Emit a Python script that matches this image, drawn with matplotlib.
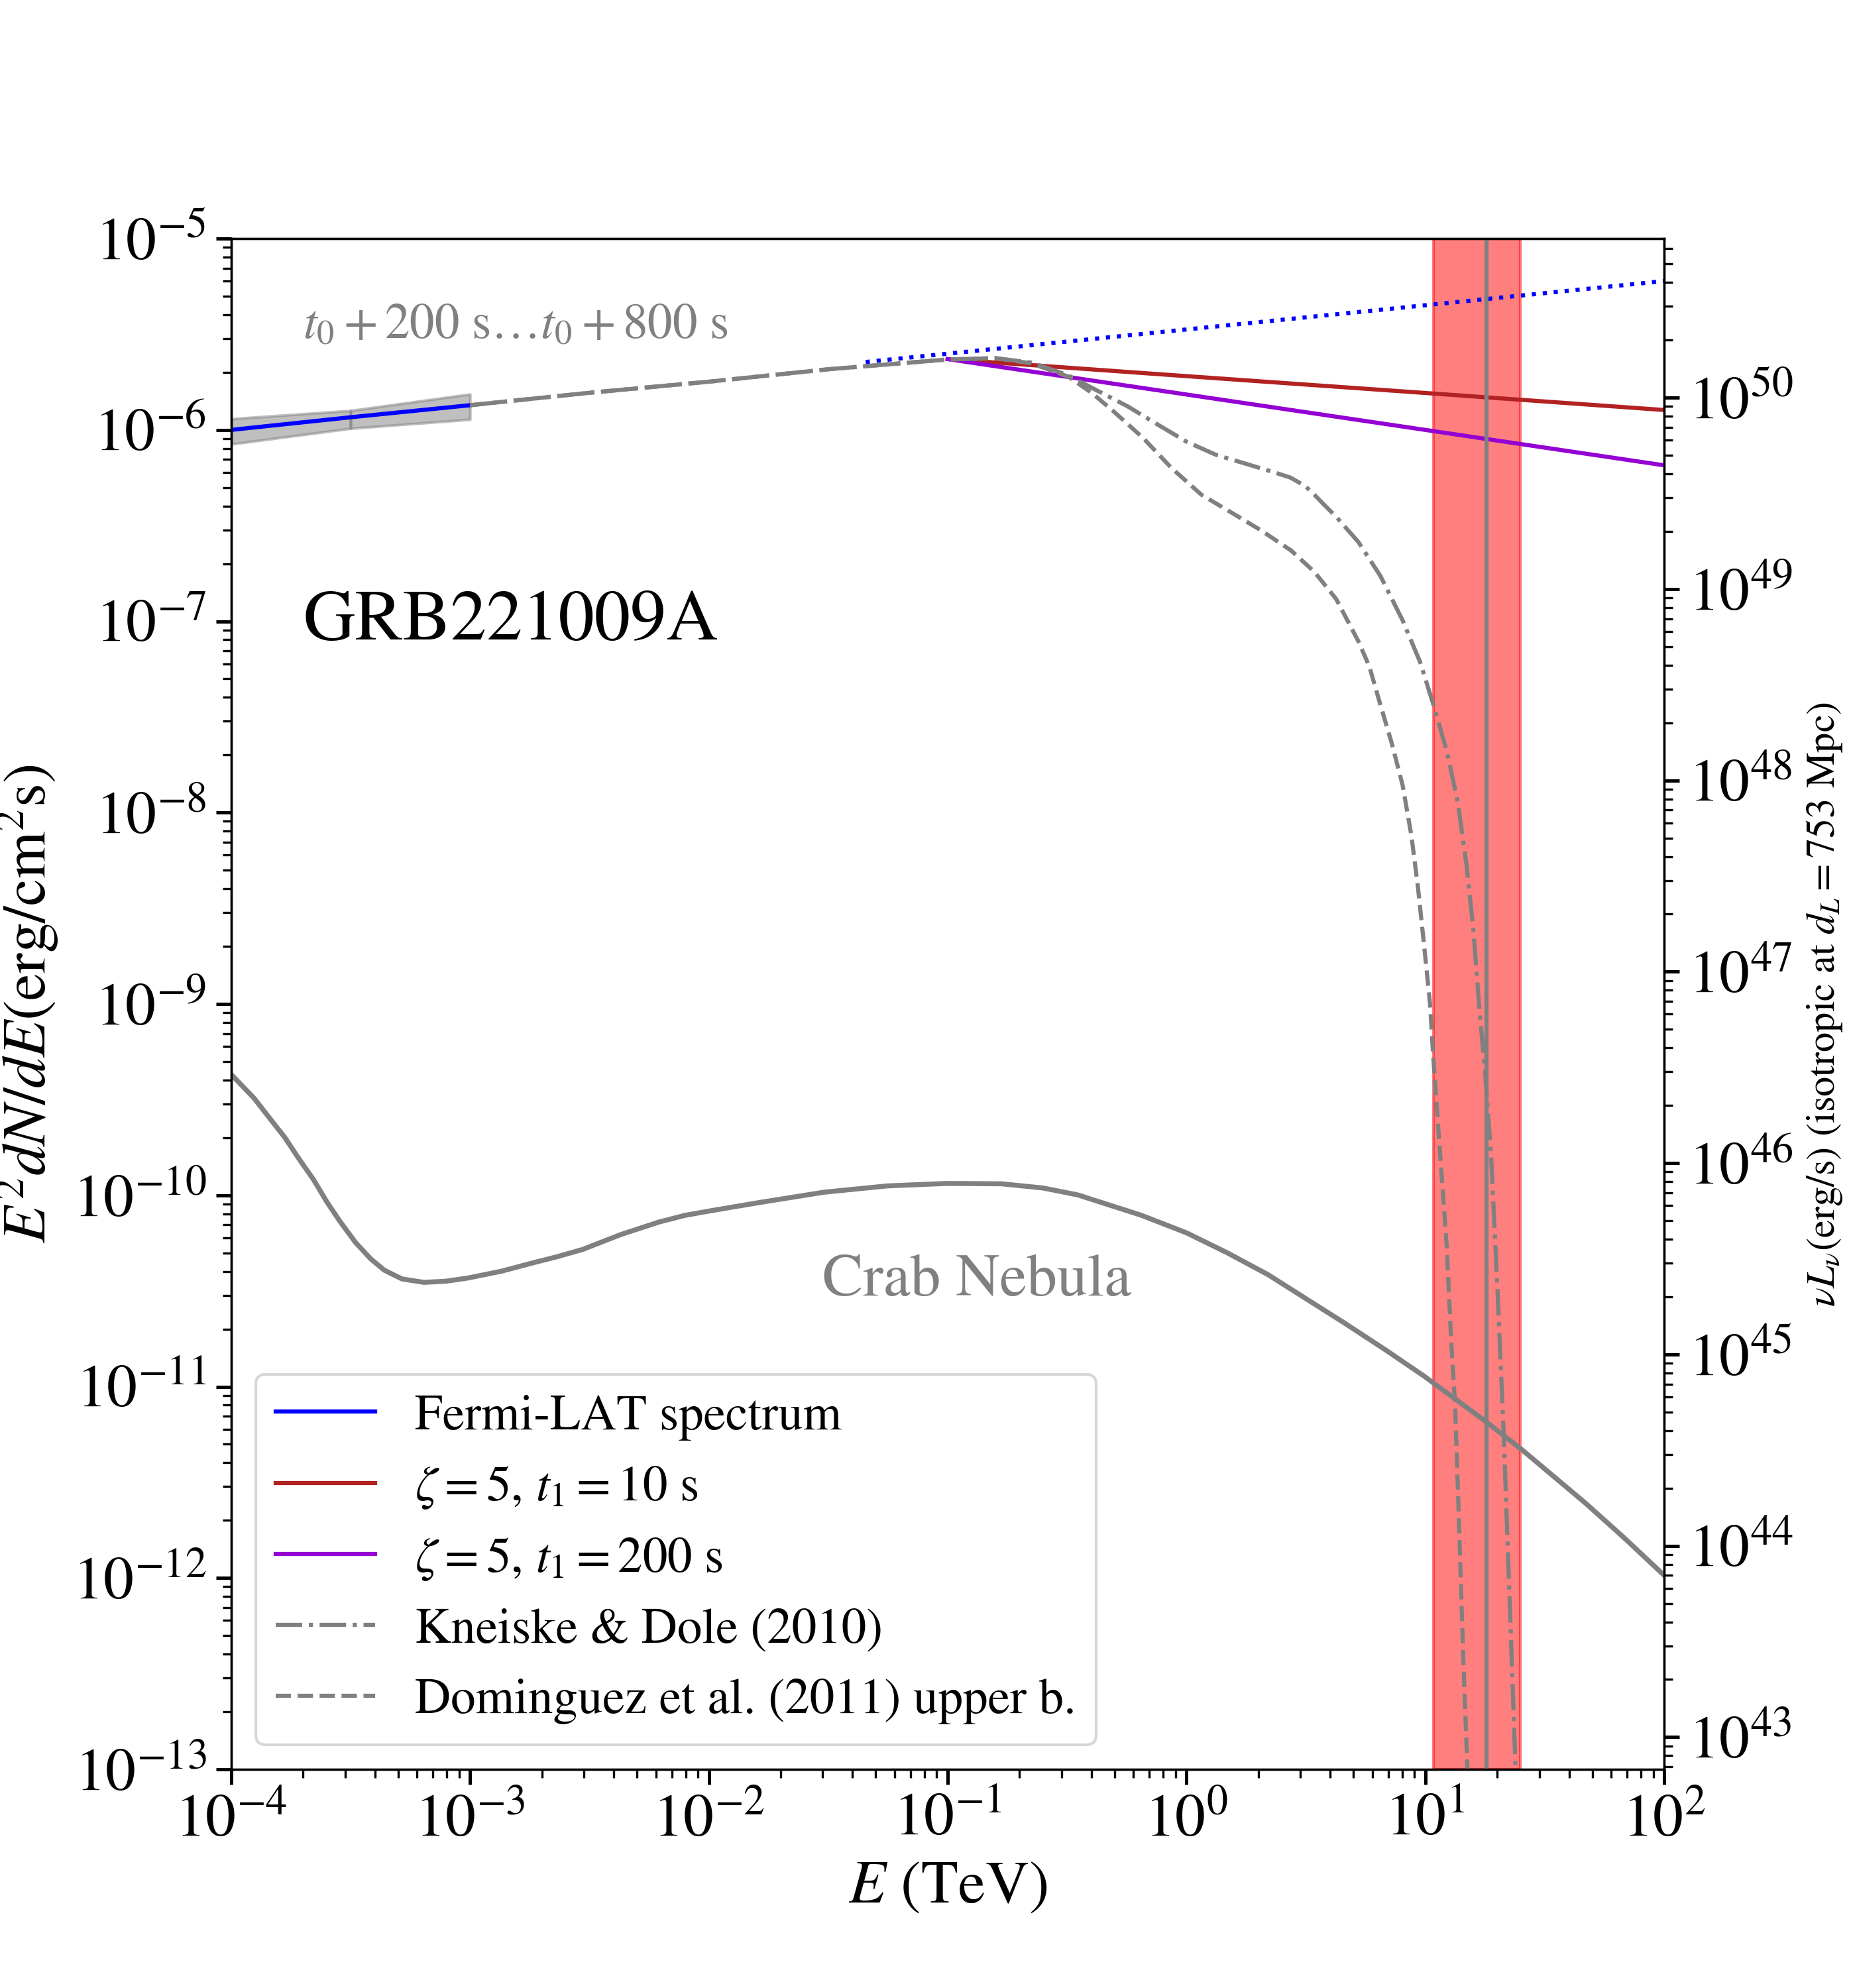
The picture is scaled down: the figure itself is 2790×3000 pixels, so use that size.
import numpy as np
import matplotlib
matplotlib.use("Agg")
import matplotlib.pyplot as plt

plt.rcParams['font.family'] = ['STIXGeneral', 'DejaVu Serif']
plt.rcParams['mathtext.fontset'] = 'stix'

# --- data (log10 of E in TeV, log10 of E^2 dN/dE) ---
# Fermi-LAT power law with its bow tie
fermi_logE = [-4.0, -3.5, -3.0]
fermi_logF = [-6.00, -5.934, -5.871]
fermi_lo_logF = [-6.074, -5.992, -5.945]
fermi_hi_logF = [-5.942, -5.899, -5.813]

# dotted extrapolation of the Fermi-LAT power law
extrap_logE = [-1.343, 2.0]
extrap_logF = [-5.645, -5.222]

# model spectra, zeta = 5
t10_logE = [-1.0, 0.0, 1.0, 2.0]
t10_logF = [-5.630, -5.719, -5.807, -5.896]
t200_logE = [-1.0, 0.0, 1.0, 2.0]
t200_logF = [-5.630, -5.815, -6.000, -6.185]

# EBL-absorbed spectra (common part, then split)
ebl_common_logE = [-3.0, -2.5, -2.0, -1.5, -1.0, -0.8]
ebl_common_logF = [-5.871, -5.806, -5.748, -5.683, -5.632, -5.625]

kneiske_logE = ebl_common_logE + [-0.65, -0.5, -0.37, -0.246, -0.123, 0.001, 0.125,
                                  0.249, 0.373, 0.435, 0.497, 0.535, 0.581, 0.627, 0.72,
                                  0.812, 0.905, 0.979, 1.034, 1.09, 1.136, 1.173, 1.201,
                                  1.228, 1.25, 1.275, 1.303, 1.328, 1.349, 1.377, 1.39]
kneiske_logF = ebl_common_logF + [-5.648, -5.712, -5.797, -5.877, -5.970, -6.062, -6.131,
                                  -6.177, -6.224, -6.249, -6.293, -6.338, -6.397, -6.454, -6.586,
                                  -6.763, -6.995, -7.215, -7.436, -7.679, -7.944, -8.276, -8.607,
                                  -9.049, -9.35, -9.78, -10.509, -11.238, -11.967, -12.963, -13.5]

dominguez_logE = ebl_common_logE + [-0.65, -0.494, -0.395, -0.308, -0.184, -0.061, 0.063,
                                    0.187, 0.311, 0.438, 0.535, 0.627, 0.72, 0.766, 0.812,
                                    0.859, 0.905, 0.942, 0.969, 0.997, 1.02, 1.032, 1.062,
                                    1.09, 1.108, 1.125, 1.143, 1.159, 1.176, 1.19]
dominguez_logF = ebl_common_logF + [-5.652, -5.722, -5.808, -5.900, -6.039, -6.201, -6.339,
                                    -6.431, -6.524, -6.630, -6.741, -6.884, -7.105, -7.237, -7.436,
                                    -7.635, -7.856, -8.121, -8.386, -8.717, -9.00, -9.25, -9.78,
                                    -10.27, -10.75, -11.10, -11.78, -12.42, -12.98, -13.5]

# Crab Nebula spectrum
crab_logE = [-4.0, -3.905, -3.84, -3.775, -3.72, -3.655, -3.6, -3.544, -3.479, -3.415,
             -3.359, -3.285, -3.193, -3.1, -3.007, -2.869, -2.73, -2.638, -2.528, -2.368,
             -2.209, -2.1, -2.002, -1.784, -1.518, -1.253, -1.003, -0.774, -0.6, -0.455,
             -0.19, 0.0, 0.17, 0.342, 0.5, 0.661, 0.83, 0.995, 1.12, 1.251, 1.405, 1.67,
             1.83, 2.0]
crab_logF = [-9.368, -9.491, -9.595, -9.698, -9.802, -9.918, -10.033, -10.137, -10.247, -10.333,
             -10.391, -10.437, -10.455, -10.449, -10.432, -10.397, -10.351, -10.322, -10.283, -10.205,
             -10.140, -10.105, -10.083, -10.037, -9.984, -9.951, -9.938, -9.940, -9.962, -9.998,
             -10.104, -10.196, -10.30, -10.415, -10.54, -10.667, -10.805, -10.945, -11.06, -11.18,
             -11.33, -11.608, -11.787, -11.986]

# observed maximum photon energy and its range (TeV)
emax = 18.0
emax_range = [10.8, 25.0]

d_L_Mpc = 753.0


def p10(v):
    return np.power(10.0, np.asarray(v))


fig, ax = plt.subplots(figsize=(9.3, 10), dpi=300)

ax.axvspan(emax_range[0], emax_range[1], color='red', alpha=0.5, zorder=1)
ax.axvline(emax, color='gray', lw=1.5, zorder=4)

# bow tie in two halves, as in the original
ax.fill_between(p10(fermi_logE[:2]), p10(fermi_lo_logF[:2]), p10(fermi_hi_logF[:2]),
                color='gray', alpha=0.5, zorder=2)
ax.fill_between(p10(fermi_logE[1:]), p10(fermi_lo_logF[1:]), p10(fermi_hi_logF[1:]),
                color='gray', alpha=0.5, zorder=2)
ax.plot(p10(fermi_logE), p10(fermi_logF), color='blue', lw=1.5, zorder=3,
        label='Fermi-LAT spectrum')
ax.plot(p10(extrap_logE), p10(extrap_logF), color='blue', ls=':', lw=1.5, zorder=3)

ax.plot(p10(t10_logE), p10(t10_logF), color='firebrick', lw=1.5, zorder=3,
        label=r'$\zeta = 5$, $t_1 = 10$ s')
ax.plot(p10(t200_logE), p10(t200_logF), color='darkviolet', lw=1.5, zorder=3,
        label=r'$\zeta = 5$, $t_1 = 200$ s')
ax.plot(p10(kneiske_logE), p10(kneiske_logF), color='gray', ls='-.', lw=1.5, zorder=3,
        label='Kneiske & Dole (2010)')
ax.plot(p10(dominguez_logE), p10(dominguez_logF), color='gray', ls='--', lw=1.5, zorder=3,
        label='Dominguez et al. (2011) upper b.')
ax.plot(p10(crab_logE), p10(crab_logF), color='gray', lw=1.8, zorder=3)

ax.set_xscale('log')
ax.set_yscale('log')
ax.set_xlim(1e-4, 1e2)
ax.set_ylim(1e-13, 1e-5)

ax.text(2e-4, 3e-6, r'$t_0+200$ s$\ldots t_0+800$ s', color='gray', fontsize=18)
ax.text(2e-4, 8e-8, 'GRB221009A', fontsize=26)
ax.text(0.03, 3e-11, 'Crab Nebula', color='gray', fontsize=22)

ax.set_xlabel(r'$E$ (TeV)', fontsize=22)
ax.set_ylabel(r'$E^2dN/dE$(erg/cm$^2$s)', fontsize=22)
ax.tick_params(axis='both', which='major', labelsize=22, length=5.5, width=1.2)
ax.tick_params(axis='both', which='minor', length=3.2, width=0.8)

ax.legend(loc='lower left', fontsize=18)

# right axis: isotropic luminosity
Mpc = 3.0857e24
K = 4 * np.pi * (d_L_Mpc * Mpc) ** 2
ax2 = ax.twinx()
ax2.set_yscale('log')
ax2.set_ylim(1e-13 * K, 1e-5 * K)
ax2.set_ylabel(r'$\nu L_\nu$(erg/s) (isotropic at $d_L = 753$ Mpc)', fontsize=14.5)
ax2.tick_params(axis='y', which='major', labelsize=22, length=5.5, width=1.2)
ax2.tick_params(axis='y', which='minor', length=3.2, width=0.8)

fig.savefig('out.png', dpi=300)
